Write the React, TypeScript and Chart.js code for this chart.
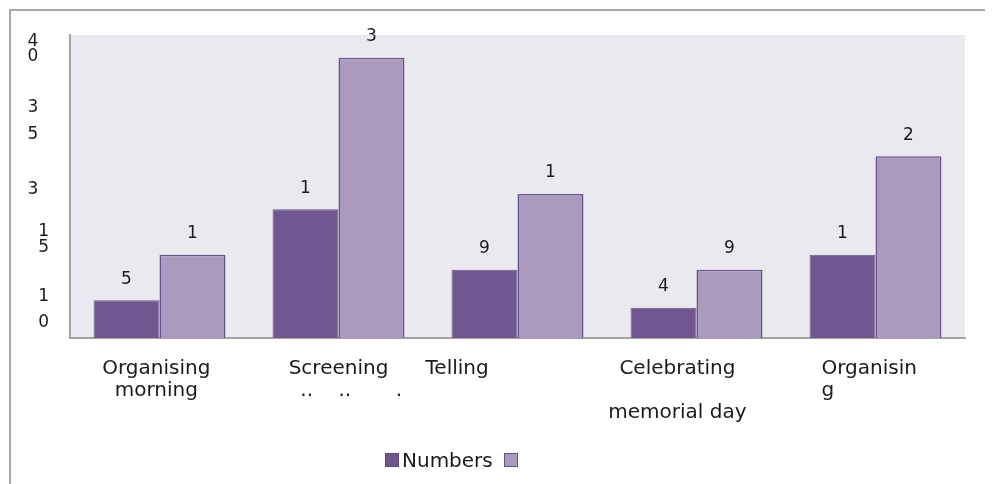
import React, { useEffect, useRef } from "react";
import { Chart, registerables } from "chart.js";

Chart.register(...registerables);

// ---- data ----
const categories: string[][] = [
  ["Organising ", "morning "],
  ["Screening", "    ..    ..       ."],
  ["Telling                   "],
  ["Celebrating      ", "", "memorial day      "],
  ["Organisin  ", "g               "],
];
const seriesNames = ["Numbers", ""];
const numbersValues = [5, 17, 9, 4, 11];
const secondValues = [11, 37, 19, 9, 24];
const numbersLabels = ["5", "1", "9", "4", "1"];
const secondLabels = ["1", "3", "1", "9", "2"];
const yTickValues = [3.75, 12.95, 19.55, 28.65, 38.15];
const yTickLabels: string[][] = [["1", "0"], ["1", "5"], ["3  "], ["3  ", "5  "], ["4  ", "0  "]];

// ---- styles ----
const FONT = "'DejaVu Sans', sans-serif";
const DARK = "#70578f";
const LIGHT = "#aa9bbe";
const BORDER = "#66528a";
const PLOT_BG = "#ebe9f0";
const AXIS = "#a3a3a3";
const TEXT = "#1a1a1a";
const fills = [DARK, LIGHT];
const borders = [DARK, BORDER];
const barLabels = [numbersLabels, secondLabels];
const yTickLineHeights = [26, 16, 16, 27, 15];

const plotBg = {
  id: "plotBg",
  beforeDraw(chart: any) {
    const { ctx, chartArea } = chart;
    ctx.save();
    ctx.fillStyle = PLOT_BG;
    ctx.fillRect(chartArea.left, chartArea.top, chartArea.right - chartArea.left, chartArea.bottom - chartArea.top);
    ctx.restore();
  },
};

const valueLabels = {
  id: "valueLabels",
  afterDatasetsDraw(chart: any) {
    const { ctx } = chart;
    ctx.save();
    ctx.font = `17px ${FONT}`;
    ctx.fillStyle = TEXT;
    ctx.textAlign = "center";
    ctx.textBaseline = "middle";
    chart.data.datasets.forEach((_: any, i: number) => {
      const meta = chart.getDatasetMeta(i);
      meta.data.forEach((bar: any, j: number) => {
        ctx.fillText(barLabels[i][j], bar.x, bar.y - 21);
      });
    });
    ctx.restore();
  },
};

export default function App() {
  const ref = useRef<HTMLCanvasElement | null>(null);

  useEffect(() => {
    if (!ref.current) return;
    const chart = new Chart(ref.current, {
      type: "bar",
      data: {
        labels: categories as any,
        datasets: [
          {
            label: seriesNames[0],
            data: numbersValues,
            backgroundColor: fills[0],
            borderColor: borders[0],
            borderWidth: 1,
            categoryPercentage: 0.737,
            barPercentage: 1,
          },
          {
            label: seriesNames[1],
            data: secondValues,
            backgroundColor: fills[1],
            borderColor: borders[1],
            borderWidth: 1.5,
            categoryPercentage: 0.737,
            barPercentage: 1,
          },
        ],
      },
      options: {
        responsive: false,
        animation: false,
        layout: { padding: { top: 27, right: 20, left: 0, bottom: 0 } },
        plugins: {
          legend: { display: false },
          tooltip: { enabled: false },
          title: { display: false },
        },
        scales: {
          x: {
            grid: { display: false },
            border: { display: true, color: AXIS, width: 2 },
            ticks: {
              autoSkip: false,
              maxRotation: 0,
              minRotation: 0,
              padding: 12,
              color: TEXT,
              font: { family: FONT, size: 20, lineHeight: 1.1 },
            },
            afterFit: (scale: any) => {
              scale.height = 138;
              scale.paddingLeft = 0;
              scale.paddingRight = 0;
            },
          },
          y: {
            min: 0,
            max: 40,
            grid: { display: false },
            border: { display: true, color: AXIS, width: 2 },
            afterBuildTicks: (axis: any) => {
              axis.ticks = yTickValues.map((v) => ({ value: v }));
            },
            ticks: {
              autoSkip: false,
              padding: 13,
              color: TEXT,
              font: (ctx: any) => ({
                family: FONT,
                size: 17,
                lineHeight: `${yTickLineHeights[ctx.index] ?? 16}px`,
              }),
              callback: (value: any, index: number) => yTickLabels[index] ?? "",
            },
            afterFit: (scale: any) => {
              scale.width = 62;
              scale.paddingTop = 0;
              scale.paddingBottom = 0;
            },
          },
        },
      },
      plugins: [plotBg, valueLabels],
    });
    return () => chart.destroy();
  }, []);

  return (
    <div style={{ position: "relative", width: 985, height: 476, overflow: "hidden" }}>
      <div
        style={{
          position: "absolute",
          left: 1,
          top: 1,
          width: 1100,
          height: 600,
          borderLeft: "2px solid #a8a8a8",
          borderTop: "2px solid #a8a8a8",
          boxSizing: "border-box",
        }}
      />
      <canvas ref={ref} width={977} height={468} style={{ position: "absolute", left: 0, top: 0, width: 977, height: 468 }} />
      <div
        style={{
          position: "absolute",
          left: 377,
          top: 442,
          height: 20,
          display: "flex",
          alignItems: "center",
          fontFamily: FONT,
          fontSize: 20,
          lineHeight: "20px",
          color: TEXT,
          whiteSpace: "pre",
        }}
      >
        {seriesNames.map((name, i) => (
          <div key={i} style={{ display: "flex", alignItems: "center", marginRight: i === 0 ? 11 : 0 }}>
            <span
              style={{
                display: "inline-block",
                width: 14,
                height: 14,
                boxSizing: "border-box",
                background: fills[i],
                border: `1px solid ${i === 0 ? "#5b4778" : BORDER}`,
                marginRight: name ? 3 : 0,
              }}
            />
            {name ? <span>{name}</span> : null}
          </div>
        ))}
      </div>
    </div>
  );
}
